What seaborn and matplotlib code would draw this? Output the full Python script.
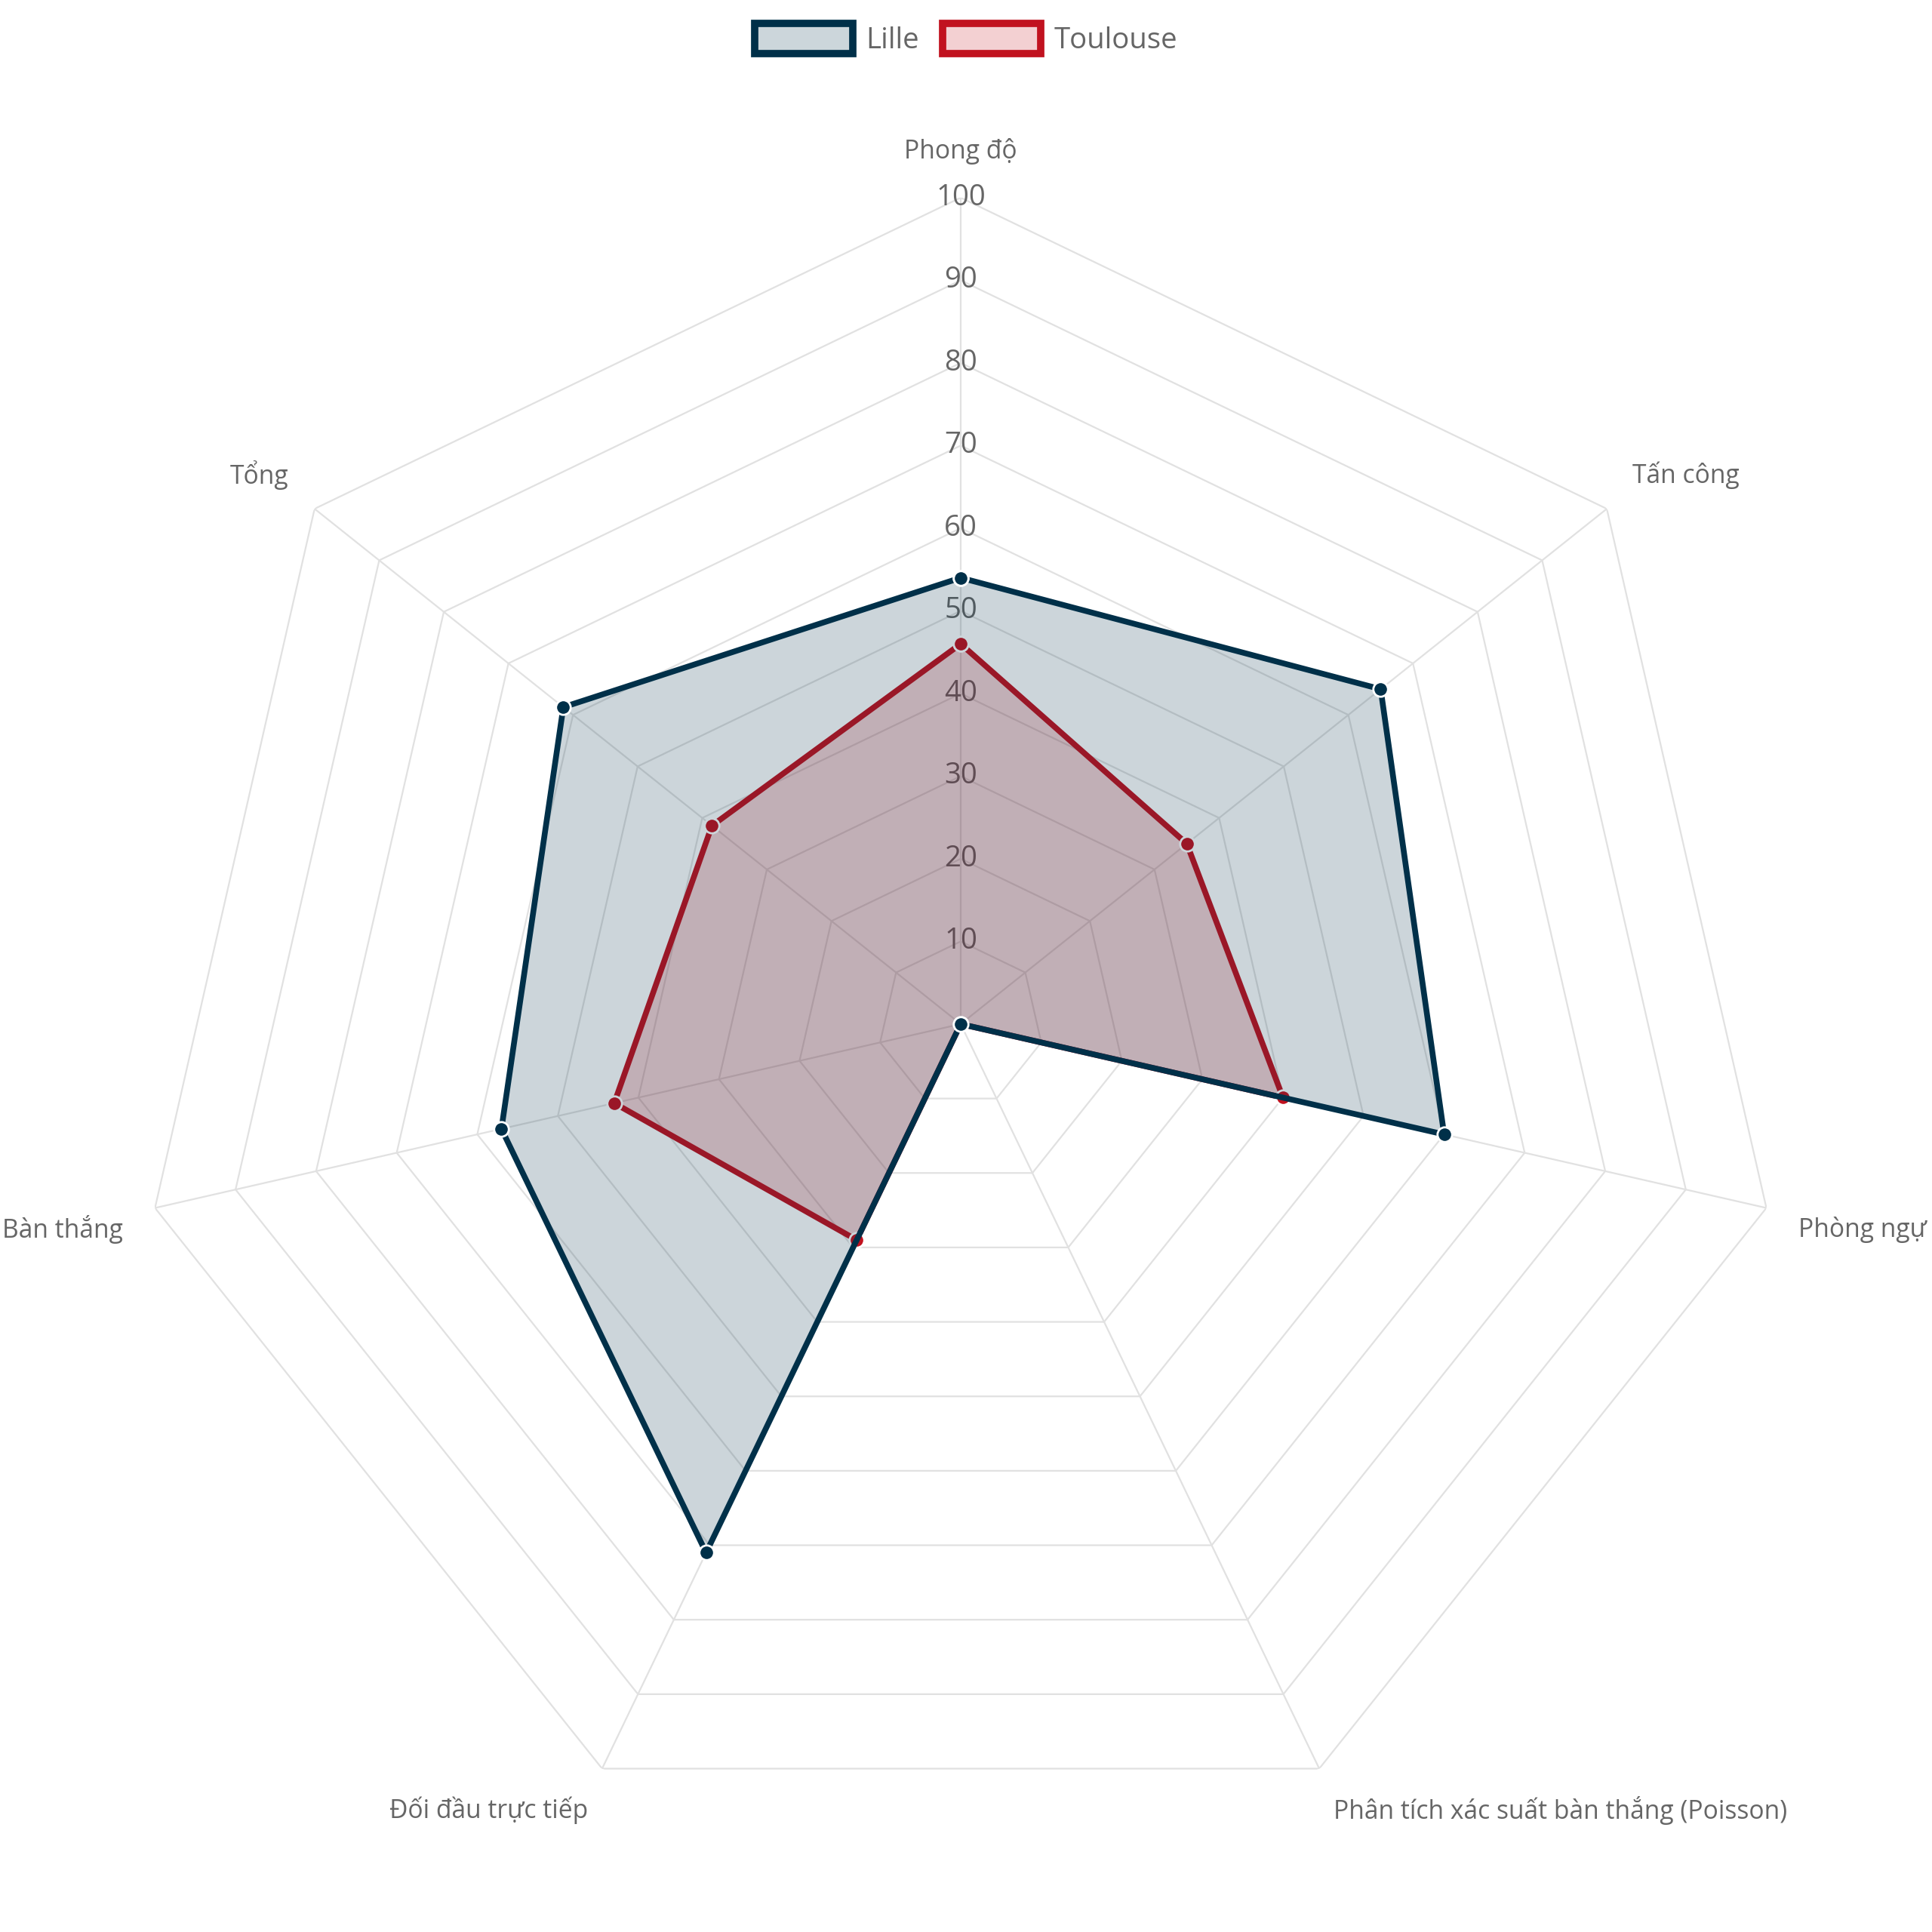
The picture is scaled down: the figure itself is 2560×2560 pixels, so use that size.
import numpy as np
import matplotlib.pyplot as plt
import seaborn as sns
from matplotlib.patches import Patch

categories = ["Phong độ", "Tấn công", "Phòng ngự",
              "Phân tích xác suất bàn thắng (Poisson)",
              "Đối đầu trực tiếp", "Bàn thắng", "Tổng"]
lille = [54, 65, 60, 0, 71, 57, 61.5]
toulouse = [46, 35, 40, 0, 29, 43, 38.5]
radial_ticks = [10, 20, 30, 40, 50, 60, 70, 80, 90, 100]

lille_color = "#003049"
toulouse_color = "#c1121f"
text_color = "#666666"
grid_color = "#e1e1e1"

sns.set_theme(style="white")
plt.rcParams["font.family"] = ["Open Sans", "DejaVu Sans"]

fig = plt.figure(figsize=(25.6, 25.6), dpi=100)
fig.patch.set_facecolor("white")
ax = fig.add_axes([0.0695, 0.0422, 0.8555, 0.8555], projection="polar")
ax.set_theta_zero_location("N")
ax.set_theta_direction(-1)
ax.grid(False)
ax.spines["polar"].set_visible(False)
ax.patch.set_alpha(0)

n = len(categories)
theta = np.linspace(0, 2 * np.pi, n, endpoint=False)
theta_closed = np.append(theta, theta[0] + 2 * np.pi)

# polygon grid + spokes
for r in radial_ticks:
    ax.plot(theta_closed, [r] * (n + 1), color=grid_color, lw=1.6, zorder=1)
for t in theta:
    ax.plot([t, t], [0, 100], color=grid_color, lw=1.6, zorder=1)

for r in radial_ticks:
    ax.text(0, r, str(r), ha="center", va="center", fontsize=27.6,
            color=text_color, zorder=1)

# series: Toulouse under Lille
for vals, col, z in [(toulouse, toulouse_color, 2), (lille, lille_color, 4)]:
    closed = list(vals) + [vals[0]]
    ax.fill(theta_closed, closed, color=col, alpha=0.2, lw=0, zorder=z)
    sns.lineplot(x=theta_closed, y=closed, sort=False, estimator=None, ax=ax,
                 color=col, lw=5.5, marker="o", markersize=14,
                 markeredgecolor="white", markeredgewidth=2.0,
                 legend=False, zorder=z + 1)

ax.set_xlabel("")
ax.set_ylabel("")
ax.set_ylim(0, 100)
ax.set_xticks([])
ax.set_yticks([])

# category labels
for t, cat in zip(theta, categories):
    s, c = np.sin(t), np.cos(t)
    if s > 0.1:
        ha = "left"
    elif s < -0.1:
        ha = "right"
    else:
        ha = "center"
    dy = 44 * c
    if 0.3 < c < 0.9:
        dy += 4.5
    elif abs(c) <= 0.3:
        dy -= 11
    ax.annotate(cat, xy=(t, 100), xytext=(31.5 * s, dy),
                textcoords="offset points", ha=ha, va="center",
                fontsize=24.2, color=text_color, annotation_clip=False)

handles = [
    Patch(facecolor="#ccd6db", edgecolor=lille_color, lw=7, label="Lille"),
    Patch(facecolor="#f3d0d2", edgecolor=toulouse_color, lw=7, label="Toulouse"),
]
fig.legend(handles=handles, loc="center", bbox_to_anchor=(0.5, 1 - 52 / 2560),
           ncol=2, frameon=False, fontsize=27.6, handlelength=3.4,
           handleheight=1.25, handletextpad=0.45, columnspacing=0.8,
           labelcolor=text_color)

fig.savefig("out.png", dpi=100, facecolor="white")
